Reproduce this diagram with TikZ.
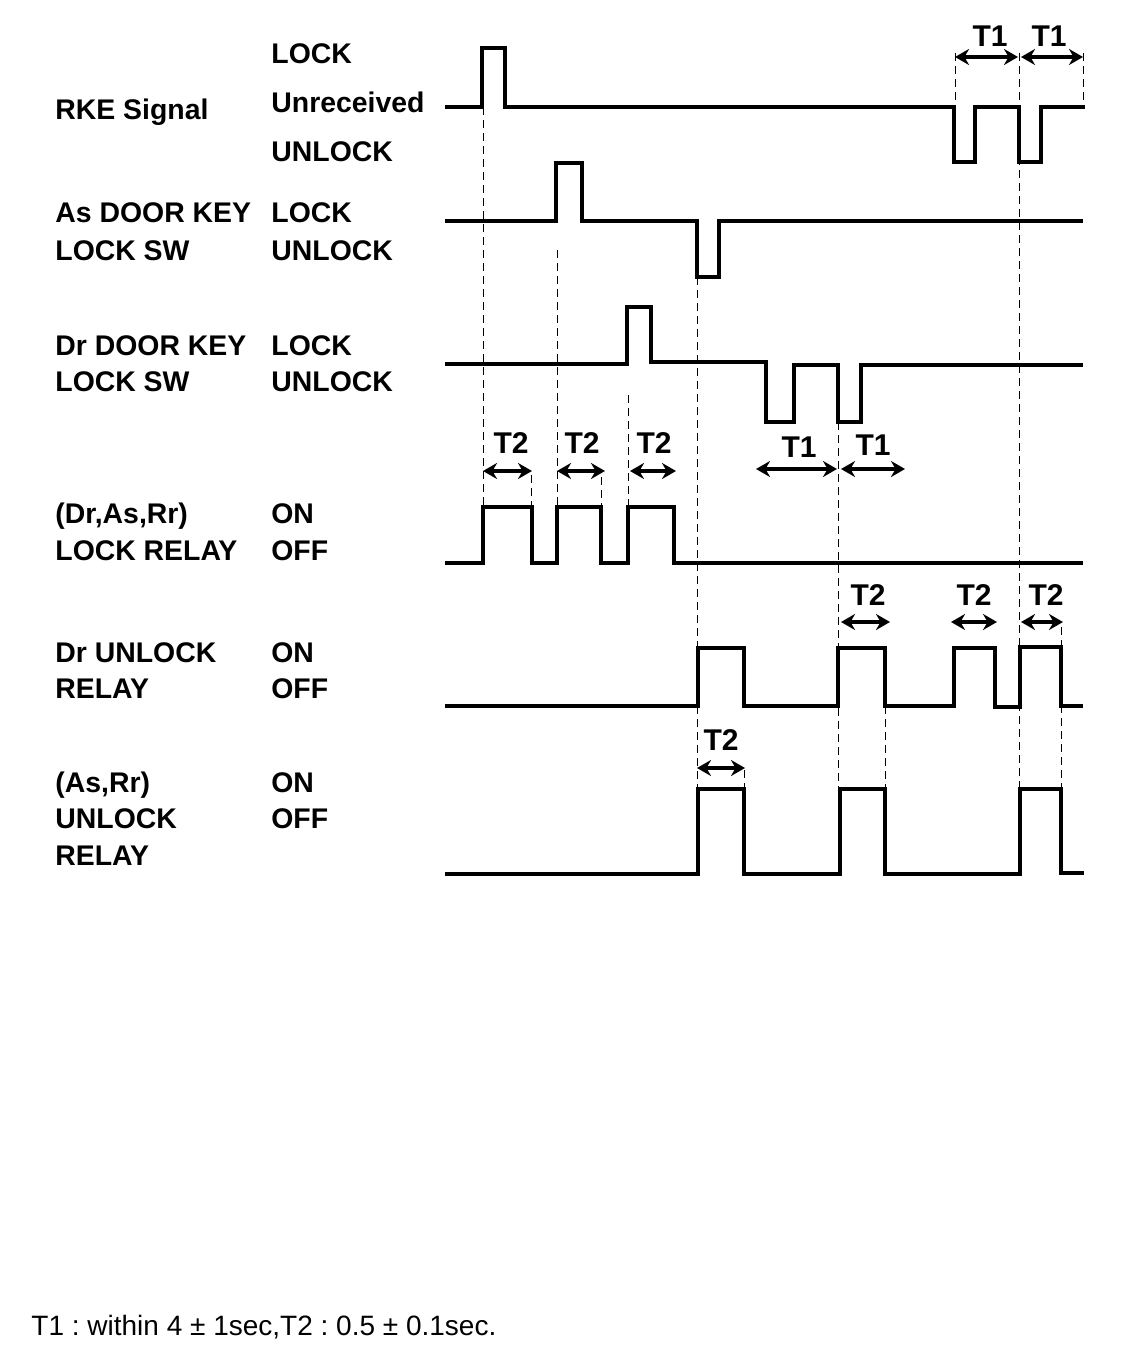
\documentclass[tikz,border=0pt]{standalone}
\usepackage{fontspec}
\setmainfont{Liberation Sans}
\usetikzlibrary{arrows.meta}

\tikzset{
  wave/.style={line width=2pt, line join=miter},
  guide/.style={dash pattern=on 4pt off 2.5pt, line width=0.5pt},
  span/.style={{Stealth[length=7pt,width=8pt]}-{Stealth[length=7pt,width=8pt]}, line width=1.6pt},
  sig/.style={anchor=base west, inner sep=0pt, font=\fontsize{14.2}{16}\selectfont\bfseries},
  tlab/.style={anchor=base, inner sep=0pt, font=\fontsize{15}{17}\selectfont\bfseries}
}

\begin{document}
\frenchspacing
\begin{tikzpicture}[x=0.5pt,y=-0.5pt]
  \useasboundingbox (0,0) rectangle (1136,1348);

  % signal names
  \node[sig] (rke)   at (55,120) {RKE Signal};
  \node[sig] (as1)   at (55,223) {As DOOR KEY};
  \node[sig] (as2)   at (55,260) {LOCK SW};
  \node[sig] (dr1)   at (55,355) {Dr DOOR KEY};
  \node[sig] (dr2)   at (55,391) {LOCK SW};
  \node[sig] (lr1)   at (55,523) {(Dr,As,Rr)};
  \node[sig] (lr2)   at (55,560) {LOCK RELAY};
  \node[sig] (du1)   at (55,662) {Dr UNLOCK};
  \node[sig] (du2)   at (55,698) {RELAY};
  \node[sig] (au1)   at (55,792) {(As,Rr)};
  \node[sig] (au2)   at (55,828) {UNLOCK};
  \node[sig] (au3)   at (55,865) {RELAY};

  % states
  \node[sig] (rkeL)  at (271,64)  {LOCK};
  \node[sig] (rkeN)  at (271,113) {Unreceived};
  \node[sig] (rkeU)  at (271,162) {UNLOCK};
  \node[sig] (asL)   at (271,223) {LOCK};
  \node[sig] (asU)   at (271,260) {UNLOCK};
  \node[sig] (drL)   at (271,355) {LOCK};
  \node[sig] (drU)   at (271,391) {UNLOCK};
  \node[sig] (lrOn)  at (271,523) {ON};
  \node[sig] (lrOff) at (271,560) {OFF};
  \node[sig] (duOn)  at (271,662) {ON};
  \node[sig] (duOff) at (271,698) {OFF};
  \node[sig] (auOn)  at (271,792) {ON};
  \node[sig] (auOff) at (271,828) {OFF};

  % waveforms
  \draw[wave] (445,107) -- (482,107) -- (482,48) -- (505,48) -- (505,107)
    -- (954,107) -- (954,162) -- (975,162) -- (975,107) -- (1019,107)
    -- (1019,162) -- (1041,162) -- (1041,107) -- (1085,107);
  \draw[wave] (445,221) -- (556,221) -- (556,163) -- (582,163) -- (582,221)
    -- (697,221) -- (697,277) -- (719,277) -- (719,221) -- (1083,221);
  \draw[wave] (445,364) -- (627,364) -- (627,307) -- (651,307) -- (651,362)
    -- (766,362) -- (766,422) -- (794,422) -- (794,365) -- (838,365)
    -- (838,422) -- (861,422) -- (861,365) -- (1083,365);
  \draw[wave] (445,563) -- (483,563) -- (483,507) -- (532,507) -- (532,563)
    -- (557,563) -- (557,507) -- (601,507) -- (601,563) -- (628,563)
    -- (628,507) -- (674,507) -- (674,563) -- (1083,563);
  \draw[wave] (445,706) -- (698,706) -- (698,648) -- (744,648) -- (744,706)
    -- (838,706) -- (838,648) -- (885,648) -- (885,706) -- (954,706)
    -- (954,648) -- (995,648) -- (995,707) -- (1020,707) -- (1020,647)
    -- (1061,647) -- (1061,706) -- (1083,706);
  \draw[wave] (445,874) -- (698,874) -- (698,789) -- (744,789) -- (744,874)
    -- (840,874) -- (840,789) -- (885,789) -- (885,874) -- (1020,874)
    -- (1020,789) -- (1061,789) -- (1061,873) -- (1084,873);

  % guide lines
  \draw[guide] (483,107) -- (483,507);
  \draw[guide] (557,250) -- (557,507);
  \draw[guide] (531,475) -- (531,507);
  \draw[guide] (601,477) -- (601,563);
  \draw[guide] (628,395) -- (628,507);
  \draw[guide] (697,277) -- (697,789);
  \draw[guide] (744,770) -- (744,789);
  \draw[guide] (838,422) -- (838,789);
  \draw[guide] (885,706) -- (885,789);
  \draw[guide] (955,53) -- (955,107);
  \draw[guide] (1083,53) -- (1083,107);
  \draw[guide] (1019,53) -- (1019,789);
  \draw[guide] (1061,627) -- (1061,873);

  % T1 / T2 spans
  \draw[span] (955,57) -- (1018,57);
  \draw[span] (1021,57) -- (1083,57);
  \node[tlab] (t1a) at (990,47) {T1};
  \node[tlab] (t1b) at (1049,47) {T1};

  \draw[span] (483,471) -- (532,471);
  \draw[span] (557,471) -- (605,471);
  \draw[span] (630,471) -- (676,471);
  \node[tlab] (t2a) at (511,453) {T2};
  \node[tlab] (t2b) at (582,453) {T2};
  \node[tlab] (t2c) at (654,453) {T2};

  \draw[span] (756,469) -- (837,469);
  \draw[span] (841,469) -- (905,469);
  \node[tlab] (t1c) at (799,457) {T1};
  \node[tlab] (t1d) at (873,455) {T1};

  \draw[span] (841,622) -- (890,622);
  \draw[span] (951,622) -- (997,622);
  \draw[span] (1021,622) -- (1063,622);
  \node[tlab] (t2d) at (868,605) {T2};
  \node[tlab] (t2e) at (974,605) {T2};
  \node[tlab] (t2f) at (1046,605) {T2};

  \draw[span] (697,768) -- (745,768);
  \node[tlab] (t2g) at (721,750) {T2};

  % note
  \node[anchor=base west, inner sep=0pt, font=\fontsize{14}{16}\selectfont] (note) at (31,1335)
    {T1 : within 4 ± 1sec,T2 : 0.5 ± 0.1sec.};
\end{tikzpicture}
\end{document}
